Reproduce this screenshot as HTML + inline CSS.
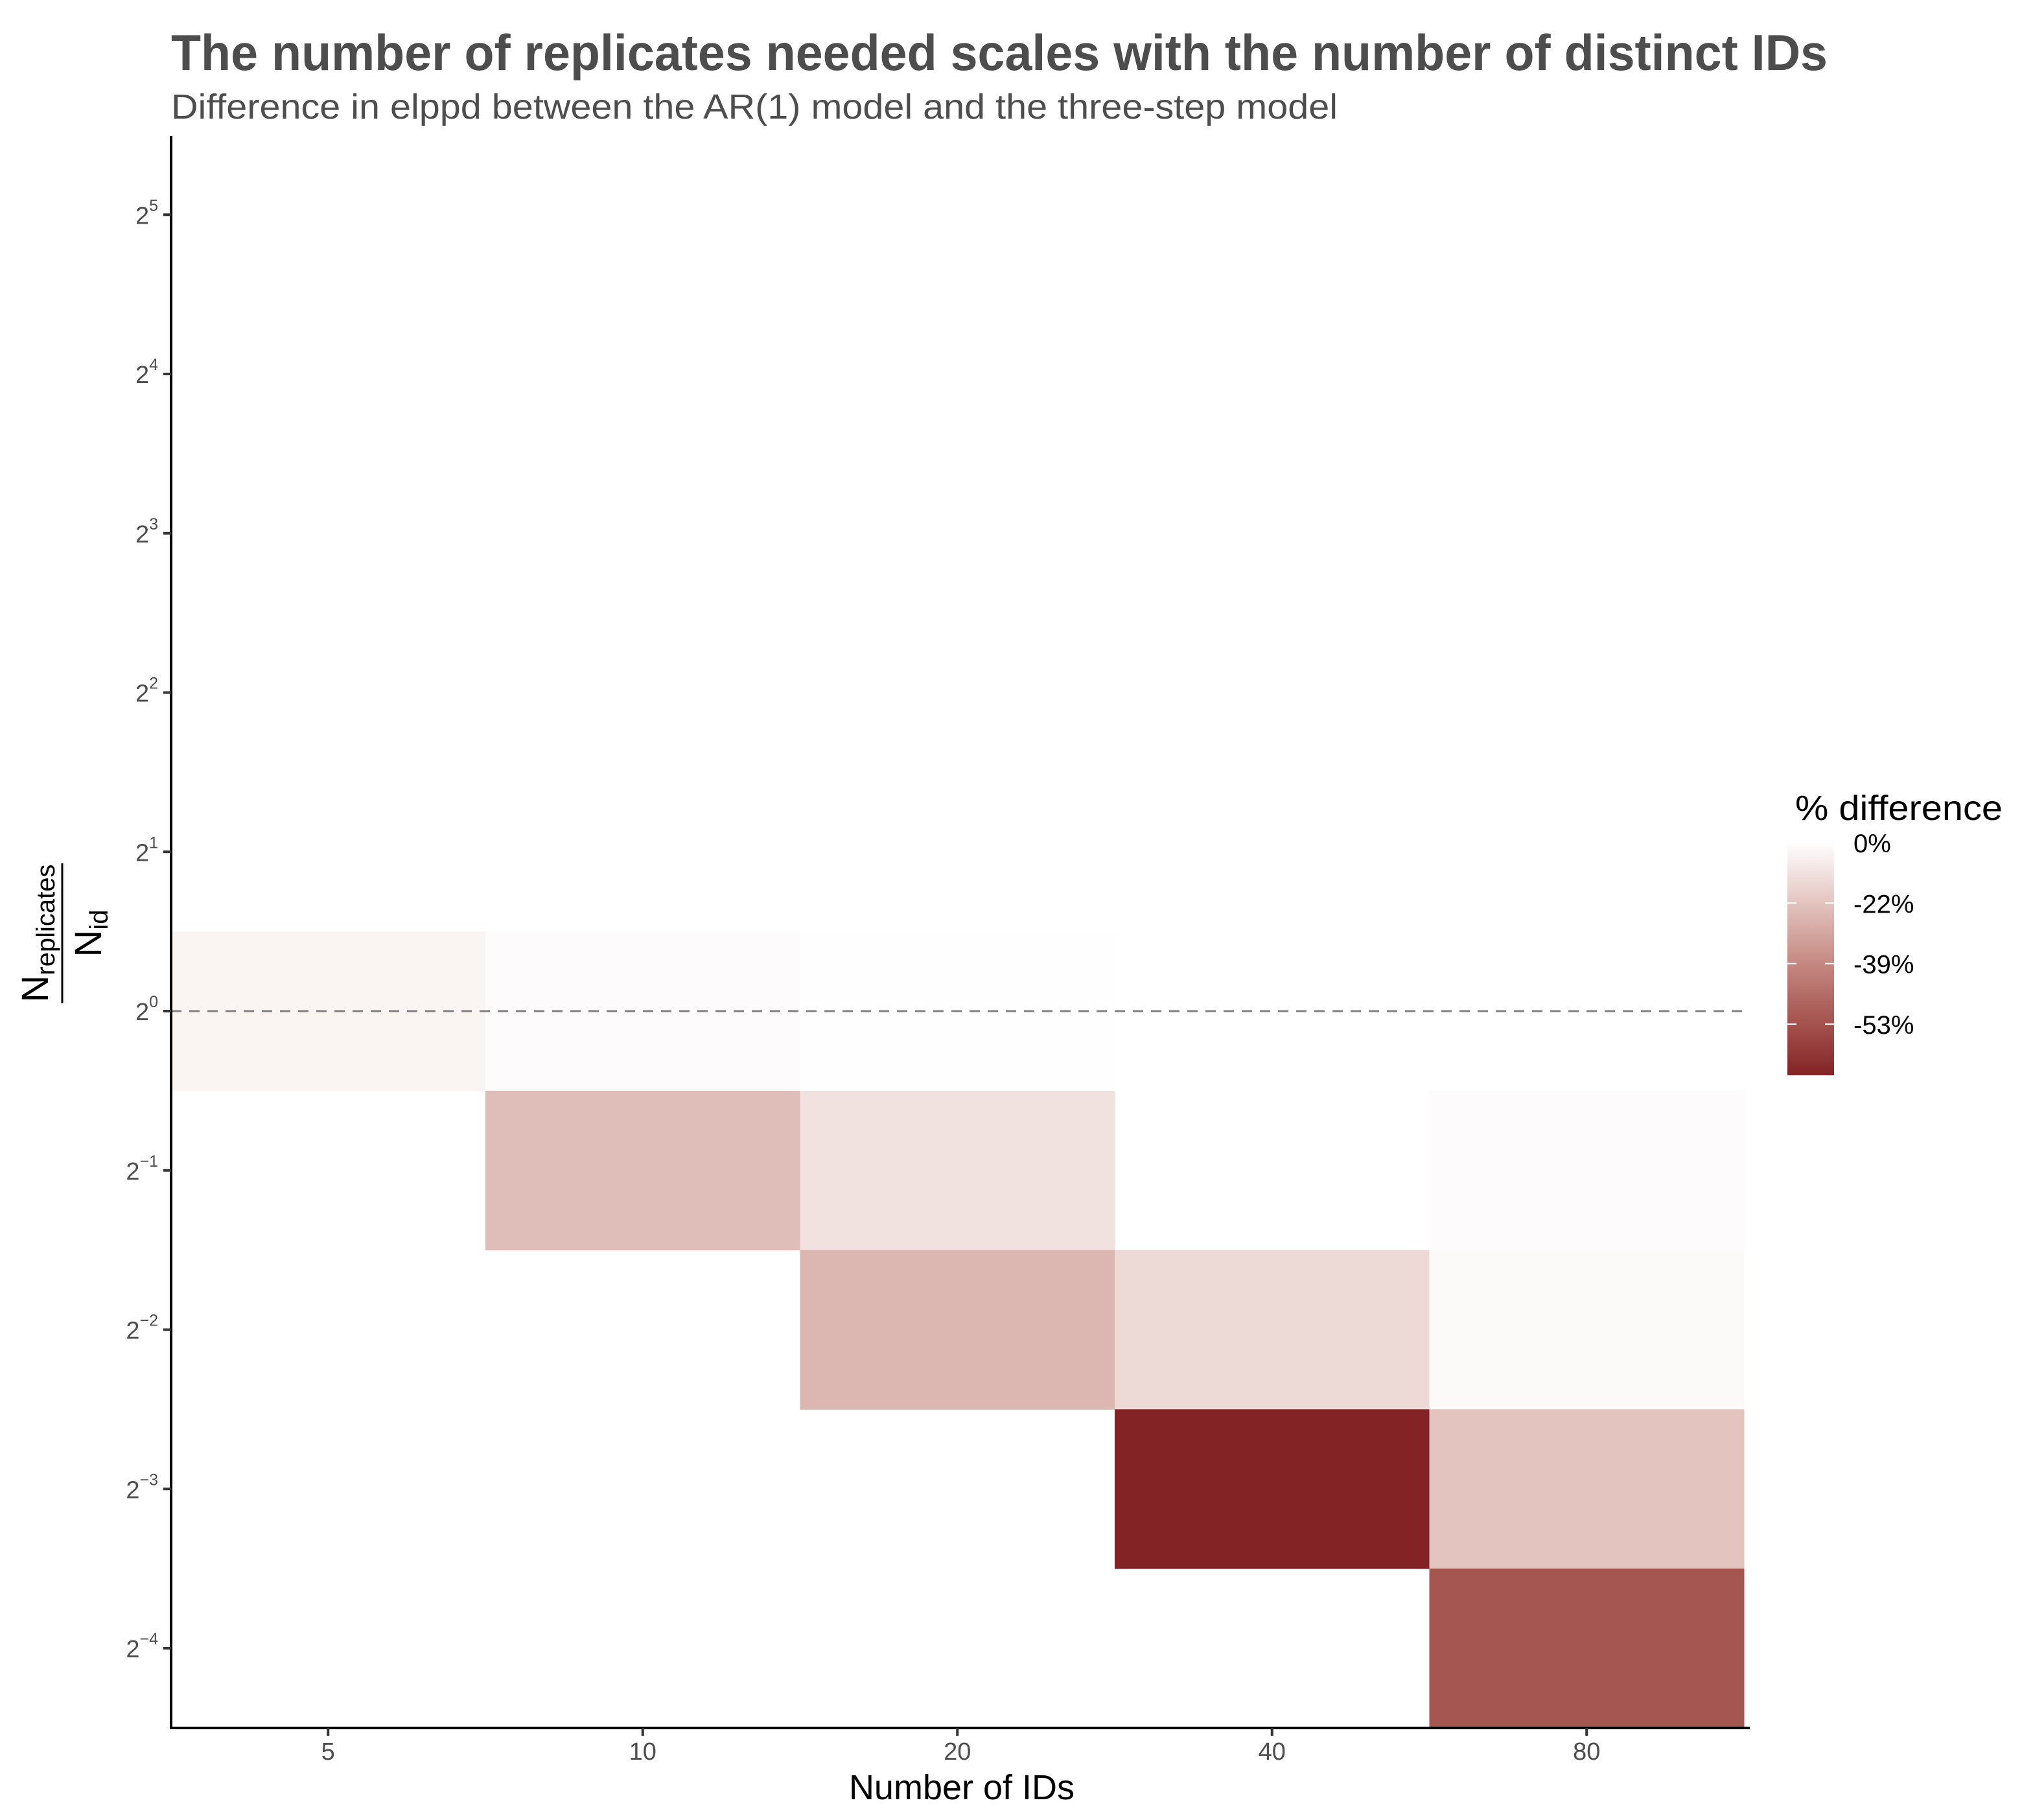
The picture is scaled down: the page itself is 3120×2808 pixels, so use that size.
<!DOCTYPE html>
<html><head><meta charset="utf-8"><style>
html,body{margin:0;padding:0;background:#fff;}
svg{display:block;font-family:"Liberation Sans",sans-serif;}
</style></head><body>
<svg id="chart" width="3120" height="2808" viewBox="0 0 3120 2808" xmlns="http://www.w3.org/2000/svg">
<text x="264" y="108" font-size="78" font-weight="bold" fill="#4d4d4d" textLength="2556" lengthAdjust="spacingAndGlyphs">The number of replicates needed scales with the number of distinct IDs</text>
<text x="264" y="183" font-size="54" fill="#4d4d4d" textLength="1800" lengthAdjust="spacingAndGlyphs">Difference in elppd between the AR(1) model and the three-step model</text>
<g id="tiles"></g>
<line x1="264" x2="2700" y1="1560" y2="1560" stroke="#808080" stroke-width="3" stroke-dasharray="16 12"/>
<line x1="264" x2="264" y1="210" y2="2668" stroke="#000" stroke-width="4"/>
<line x1="262" x2="2700" y1="2666" y2="2666" stroke="#000" stroke-width="4"/>
<g id="yticks"></g>
<g id="xticks"></g>
<text x="1484" y="2776" font-size="54" fill="#000" text-anchor="middle">Number of IDs</text>
<g transform="translate(96,1440) rotate(-90)">
  <text x="0" y="-22" font-size="58" text-anchor="middle" fill="#000">N<tspan font-size="40" dy="10">replicates</tspan></text>
  <line x1="-108" x2="108" y1="0" y2="0" stroke="#000" stroke-width="3"/>
  <text x="0" y="60" font-size="58" text-anchor="middle" fill="#000">N<tspan font-size="40" dy="10">id</tspan></text>
</g>
<text x="2770" y="1265" font-size="54" fill="#000" textLength="320" lengthAdjust="spacingAndGlyphs">% difference</text>
<defs><linearGradient id="lg" x1="0" y1="0" x2="0" y2="1"></linearGradient></defs>
<rect x="2758" y="1300" width="72" height="359" fill="url(#lg)"/>
<g id="legend"></g>
</svg>
<script>
const xCats = ["5","10","20","40","80"];
const yPowers = [5,4,3,2,1,0,-1,-2,-3,-4];
const tileX = ["5","10","20","10","20","80","20","40","80","40","80","80"];
const tileY = [0,0,0,-1,-1,-1,-2,-2,-2,-3,-3,-4];
const tileValues = [-4,-1.5,-0.5,-24,-11,-1.5,-26,-14,-2,-65,-22,-52];
const legendValues = [0,-22,-39,-53];
const legendLabels = ["0%","-22%","-39%","-53%"];
const colorStopValues = [0,-22,-39,-53,-65];
const colorStopColors = [[255,255,255],[227,196,191],[197,136,129],[164,82,77],[131,35,37]];
const legendStopFrac = [0,0.26,0.52,0.78,1];

const NS="http://www.w3.org/2000/svg";
const colW=485.5, x0=263.5, rowH=245.75, y0pow=1560;
function xScale(c){return x0+(xCats.indexOf(c)+0.5)*colW;}
function yScale(p){return y0pow - p*rowH;}
function colorOf(v){
  for(let i=0;i<colorStopValues.length-1;i++){
    const a=colorStopValues[i],b=colorStopValues[i+1];
    if(v<=a && v>=b){const t=(a-v)/(a-b);const c=colorStopColors[i].map((q,k)=>Math.round(q+(colorStopColors[i+1][k]-q)*t));return `rgb(${c})`;}
  }
  return v>0?"rgb(255,255,255)":`rgb(${colorStopColors[colorStopColors.length-1]})`;
}
function legendY(v){
  for(let i=0;i<colorStopValues.length-1;i++){
    const a=colorStopValues[i],b=colorStopValues[i+1];
    if(v<=a&&v>=b){return 1300+359*(legendStopFrac[i]+(legendStopFrac[i+1]-legendStopFrac[i])*(a-v)/(a-b));}
  }
  return 1659;
}
const tg=document.getElementById('tiles');
tileValues.forEach((v,i)=>{
  const r=document.createElementNS(NS,'rect');
  r.setAttribute('x',xScale(tileX[i])-colW/2);
  r.setAttribute('y',yScale(tileY[i])-rowH/2);
  r.setAttribute('width',colW+0.5);
  r.setAttribute('height',rowH+0.5);
  r.setAttribute('fill',colorOf(v));
  
  
  tg.appendChild(r);
});
const yg=document.getElementById('yticks');
yPowers.forEach(p=>{
  const y=yScale(p);
  const l=document.createElementNS(NS,'line');
  l.setAttribute('x1',252);l.setAttribute('x2',264);l.setAttribute('y1',y);l.setAttribute('y2',y);
  l.setAttribute('stroke','#333');l.setAttribute('stroke-width',4);
  
  
  yg.appendChild(l);
  const t=document.createElementNS(NS,'text');
  t.setAttribute('x',244);t.setAttribute('y',y+14);t.setAttribute('text-anchor','end');
  t.setAttribute('font-size',38);t.setAttribute('fill','#4d4d4d');
  t.innerHTML='2<tspan font-size="25" dy="-20">'+(p<0?'\u2212'+(-p):p)+'</tspan>';
  
  
  yg.appendChild(t);
});
const xg=document.getElementById('xticks');
xCats.forEach(c=>{
  const x=xScale(c);
  const l=document.createElementNS(NS,'line');
  l.setAttribute('x1',x);l.setAttribute('x2',x);l.setAttribute('y1',2666);l.setAttribute('y2',2678);
  l.setAttribute('stroke','#333');l.setAttribute('stroke-width',4);
  
  
  xg.appendChild(l);
  const t=document.createElementNS(NS,'text');
  t.setAttribute('x',x);t.setAttribute('y',2715);t.setAttribute('text-anchor','middle');
  t.setAttribute('font-size',38);t.setAttribute('fill','#4d4d4d');
  t.textContent=c;
  
  
  xg.appendChild(t);
});
const lg=document.getElementById('lg');
legendStopFrac.forEach((f,i)=>{
  const s=document.createElementNS(NS,'stop');
  s.setAttribute('offset',f);s.setAttribute('stop-color',`rgb(${colorStopColors[i]})`);
  lg.appendChild(s);
});
const leg=document.getElementById('legend');
legendValues.forEach((v,i)=>{
  const y=legendY(v);
  if(i>0){
    [[2758,2772],[2816,2830]].forEach(([a,b])=>{
      const l=document.createElementNS(NS,'line');
      l.setAttribute('x1',a);l.setAttribute('x2',b);l.setAttribute('y1',y);l.setAttribute('y2',y);
      l.setAttribute('stroke','#fff');l.setAttribute('stroke-width',2);
      
      
      leg.appendChild(l);
    });
  }
  const t=document.createElementNS(NS,'text');
  t.setAttribute('x',2860);t.setAttribute('y',y+15);
  t.setAttribute('font-size',40);t.setAttribute('fill','#000');
  t.textContent=legendLabels[i];
  
  
  leg.appendChild(t);
});
</script>
</body></html>
